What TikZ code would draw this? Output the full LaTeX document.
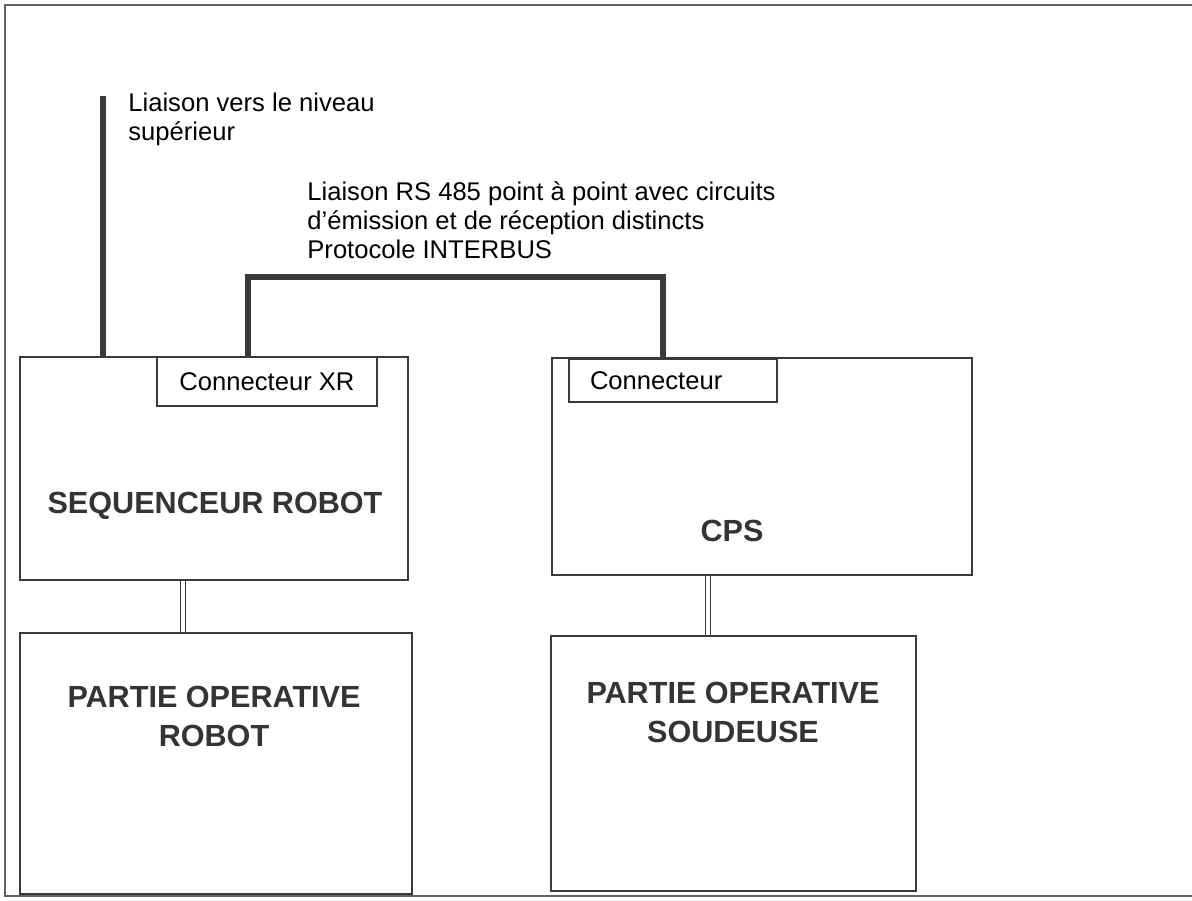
\documentclass[tikz,border=0pt]{standalone}
\usepackage{fontspec}
\setmainfont{Liberation Sans}
\usetikzlibrary{positioning}
\definecolor{trait}{HTML}{3A3A3A}
\begin{document}
\begin{tikzpicture}[x=0.5pt, y=-0.5pt,
      box/.style={draw=trait, line width=0.9pt, rectangle, inner sep=0pt},
      bus/.style={trait, line width=3pt},
      lien/.style={trait, double, double distance=1.6pt, line width=0.7pt},
      note/.style={font=\fontsize{12.8}{14.5}\selectfont, align=left, inner sep=0pt},
      titre/.style={font=\fontsize{15.3}{19.5}\selectfont\bfseries, align=center, text=trait!90!black}]
      \useasboundingbox (0,0) rectangle (1192,900);
      % Cadre
      \draw[trait!80, line width=1pt] (1192,5) -- (5,5) -- (5,896) -- (1192,896);
      % Blocs
      \node[box, minimum width=194pt, minimum height=111.5pt] (seq) at (214,468.5) {};
      \node[box, minimum width=110pt, minimum height=24.5pt, font=\fontsize{12.8}{14.5}\selectfont] (xr) at (267,381.5) {Connecteur XR};
      \node[box, minimum width=210pt, minimum height=108.5pt] (cps) at (762,466.5) {};
      \node[box, minimum width=104pt, minimum height=21.5pt, text width=104pt, align=left,
            inner xsep=0pt, font=\fontsize{12.8}{14.5}\selectfont] (con) at (673,380.5) {\hspace*{10.5pt}Connecteur};
      \node[box, minimum width=196pt, minimum height=130.5pt] (opr) at (216,763.5) {};
      \node[box, minimum width=182.5pt, minimum height=127.5pt] (ops) at (733.5,763.5) {};
      % Textes des blocs
      \node[titre] (tseq) at (215,506) {SEQUENCEUR ROBOT};
      \node[titre] (tcps) at (732,531) {CPS};
      \node[titre] (topr) at (214,716) {PARTIE OPERATIVE\\ROBOT};
      \node[titre] (tops) at (733,712) {PARTIE OPERATIVE\\SOUDEUSE};
      % Liaisons
      \coordinate (haut) at (103,96);
      \coordinate (busL) at (248,277);
      \coordinate (busR) at (663,277);
      \draw[bus] (haut) -- (haut |- seq.north);
      \draw[bus] (busL |- xr.north) -- (busL) -- (busR) -- (busR |- cps.north);
      \coordinate (lienL) at (183,0);
      \coordinate (lienR) at (708,0);
      \draw[lien] (lienL |- seq.south) -- (lienL |- opr.north);
      \draw[lien] (lienR |- cps.south) -- (lienR |- ops.north);
      % Etiquettes
      \node[note, anchor=north west] (nhaut) at (128,93) {Liaison vers le niveau\\sup\'erieur};
      \node[note, anchor=north west] (nbus) at (307,181) {Liaison RS 485 point \`a point avec circuits\\d'\'emission et de r\'eception distincts\\Protocole INTERBUS};
\end{tikzpicture}
\end{document}
